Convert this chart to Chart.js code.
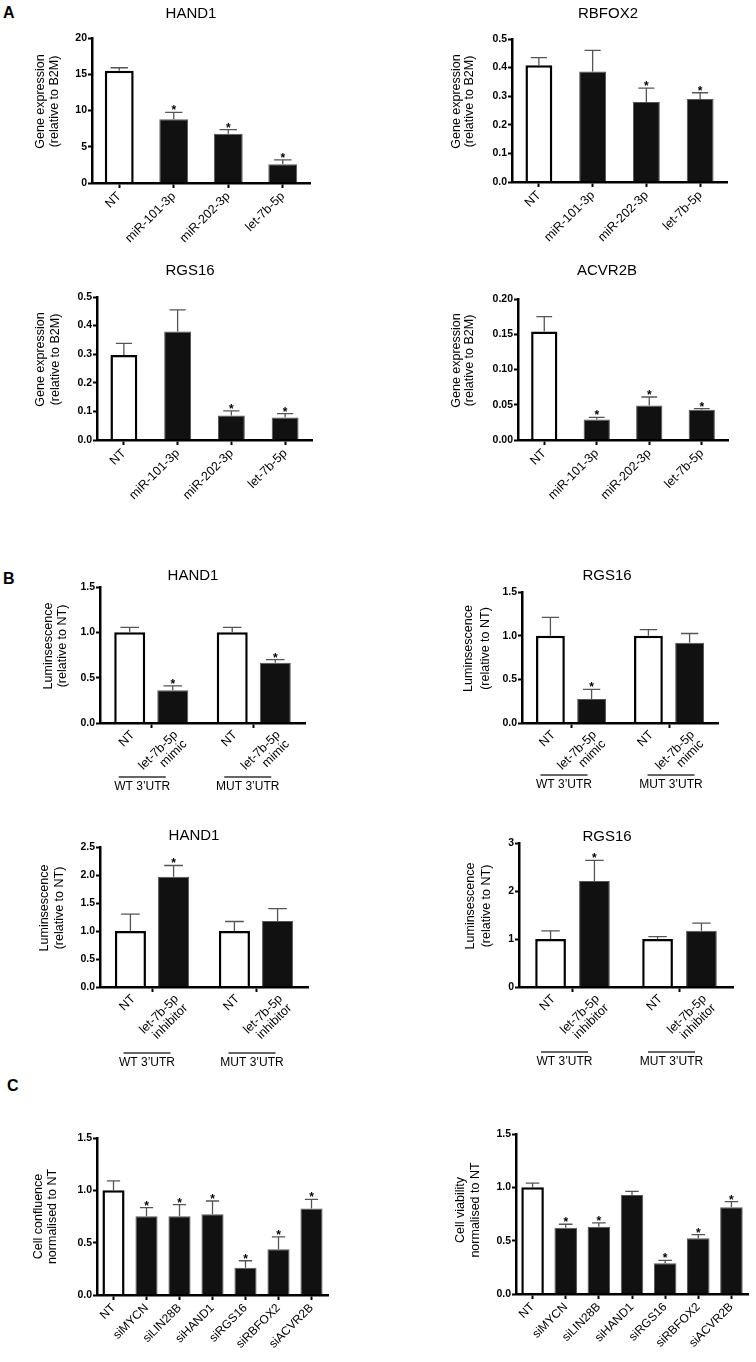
<!DOCTYPE html>
<html lang="en">
<head>
<meta charset="UTF-8">
<title>Gene expression, luciferase and siRNA panels</title>
<style>
  body { margin: 0; background: #fff; }
  #fig { position: relative; width: 756px; height: 1362px; overflow: hidden; font-family: "Liberation Sans", Arial, sans-serif; }
  .letter { position: absolute; font-weight: bold; font-size: 16px; line-height: 16px; }
  canvas { position: absolute; }
</style>
</head>
<body>
<div id="fig">
  <div class="letter" style="left:3px;top:5px">A</div>
  <div class="letter" style="left:3px;top:571px">B</div>
  <div class="letter" style="left:7px;top:1078px">C</div>
</div>

<script src="https://cdn.jsdelivr.net/npm/chart.js"></script>
<script>
// ---- data ----
const geneCats = ['NT', 'miR-101-3p', 'miR-202-3p', 'let-7b-5p'];

const hand1Expr    = [15.5, 8.8, 6.8, 2.6];
const hand1ExprErr = [0.4, 0.95, 0.55, 0.6];
const hand1ExprSig = [0, 1, 1, 1];

const rbfox2Expr    = [0.408, 0.386, 0.28, 0.29];
const rbfox2ExprErr = [0.027, 0.074, 0.048, 0.022];
const rbfox2ExprSig = [0, 0, 1, 1];

const rgs16Expr    = [0.297, 0.379, 0.086, 0.079];
const rgs16ExprErr = [0.041, 0.076, 0.016, 0.013];
const rgs16ExprSig = [0, 0, 1, 1];

const acvr2bExpr    = [0.154, 0.029, 0.049, 0.043];
const acvr2bExprErr = [0.021, 0.003, 0.012, 0.0015];
const acvr2bExprSig = [0, 1, 1, 1];

const utrGroups   = ['WT 3\u2019UTR', 'MUT 3\u2019UTR'];
const mimicLabels = ['NT', ['let-7b-5p', 'mimic']];
const inhibLabels = ['NT', ['let-7b-5p', 'inhibitor']];

const hand1MimicNT     = [1.0, 1.0];
const hand1MimicNTErr  = [0.055, 0.055];
const hand1Mimic       = [0.36, 0.665];
const hand1MimicErr    = [0.05, 0.035];
const hand1MimicSig    = [1, 1];

const rgs16MimicNT     = [1.0, 1.0];
const rgs16MimicNTErr  = [0.21, 0.07];
const rgs16Mimic       = [0.275, 0.92];
const rgs16MimicErr    = [0.11, 0.105];
const rgs16MimicSig    = [1, 0];

const hand1InhibNT     = [1.0, 1.0];
const hand1InhibNTErr  = [0.30, 0.17];
const hand1Inhib       = [1.97, 1.18];
const hand1InhibErr    = [0.20, 0.22];
const hand1InhibSig    = [1, 0];

const rgs16InhibNT     = [1.0, 1.0];
const rgs16InhibNTErr  = [0.17, 0.05];
const rgs16Inhib       = [2.21, 1.17];
const rgs16InhibErr    = [0.43, 0.16];
const rgs16InhibSig    = [1, 0];

const siCats        = ['NT', 'siMYCN', 'siLIN28B', 'siHAND1', 'siRGS16', 'siRBFOX2', 'siACVR2B'];
const confluence    = [1.0, 0.752, 0.752, 0.771, 0.26, 0.438, 0.826];
const confluenceErr = [0.09, 0.083, 0.112, 0.127, 0.067, 0.117, 0.088];
const confluenceSig = [0, 1, 1, 1, 1, 1, 1];
const viability     = [1.0, 0.622, 0.631, 0.929, 0.288, 0.522, 0.813];
const viabilityErr  = [0.04, 0.032, 0.035, 0.034, 0.028, 0.034, 0.053];
const viabilitySig  = [0, 1, 1, 0, 1, 1, 1];

// ---- drawing ----
const FONT = '"Liberation Sans", Arial, Helvetica, sans-serif';
Chart.defaults.font.family = FONT;
Chart.defaults.color = '#000';

const fig = document.getElementById('fig');
const L = 80, T = 50, R = 14, B = 120;   // canvas margins around the plot box

// error bars, asterisks, titles, grouped labels
const figExtras = {
  id: 'figExtras',
  afterDraw(chart, args, o) {
    const ctx = chart.ctx, ys = chart.scales.y, xs = chart.scales.x, ca = chart.chartArea;
    const ox = o.box.x0 - L, oy = o.box.yTop - T;
    ctx.save();

    chart.data.datasets.forEach((ds, di) => {
      chart.getDatasetMeta(di).data.forEach((bar, i) => {
        const yTop = ys.getPixelForValue(ds.data[i] + o.err[di][i]);
        const cap = bar.width * 0.3;
        ctx.strokeStyle = '#555';
        ctx.lineWidth = 1.3;
        ctx.beginPath();
        ctx.moveTo(bar.x, bar.y);
        ctx.lineTo(bar.x, yTop);
        ctx.moveTo(bar.x - cap, yTop);
        ctx.lineTo(bar.x + cap, yTop);
        ctx.stroke();
        if (o.sig[di][i]) {
          ctx.fillStyle = '#000';
          ctx.font = 'bold 12px ' + FONT;
          ctx.textAlign = 'center';
          ctx.textBaseline = 'alphabetic';
          ctx.fillText('*', bar.x, yTop + 2);
        }
      });
    });

    ctx.fillStyle = '#000';
    if (o.title) {
      ctx.font = '15px ' + FONT;
      ctx.textAlign = 'center';
      ctx.textBaseline = 'middle';
      ctx.fillText(o.title, o.titleX - ox, o.titleY - oy);
    }

    ctx.font = '12.5px ' + FONT;
    ctx.textAlign = 'center';
    ctx.textBaseline = 'middle';
    const cy = (ca.top + ca.bottom) / 2 + o.yTitleDy;
    o.yTitle.forEach((line, k) => {
      ctx.save();
      ctx.translate(ca.left + o.yTitleDx[k], cy);
      ctx.rotate(-Math.PI / 2);
      ctx.fillText(line, 0, 0);
      ctx.restore();
    });

    if (o.barLabels) {
      ctx.font = '12.5px ' + FONT;
      ctx.textAlign = 'right';
      chart.data.datasets.forEach((ds, di) => {
        const lab = o.barLabels[di];
        const lines = Array.isArray(lab) ? lab : [lab];
        chart.getDatasetMeta(di).data.forEach(bar => {
          ctx.save();
          ctx.translate(bar.x + 3, ca.bottom + 10);
          ctx.rotate(-Math.PI / 4);
          lines.forEach((ln, k) => ctx.fillText(ln, 0, k * 13));
          ctx.restore();
        });
      });
      ctx.font = '12px ' + FONT;
      ctx.textAlign = 'center';
      chart.data.labels.forEach((g, gi) => {
        const cx = xs.getPixelForTick(gi) + o.groupDx[gi];
        ctx.strokeStyle = '#333';
        ctx.lineWidth = 1.3;
        ctx.beginPath();
        ctx.moveTo(cx - 23.5, ca.bottom + o.lineDy);
        ctx.lineTo(cx + 23.5, ca.bottom + o.lineDy);
        ctx.stroke();
        ctx.fillText(g, cx, ca.bottom + o.lineDy + 10);
      });
    }
    ctx.restore();
  }
};

function makePanel(p) {
  const box = p.box;
  const w = box.x1 - box.x0 + L + R;
  const h = box.y0 - box.yTop + T + B;
  const cv = document.createElement('canvas');
  cv.width = w; cv.height = h;
  cv.style.left = (box.x0 - L) + 'px';
  cv.style.top = (box.yTop - T) + 'px';
  cv.style.width = w + 'px';
  cv.style.height = h + 'px';
  fig.appendChild(cv);

  const grouped = !!p.barLabels;
  return new Chart(cv.getContext('2d'), {
    type: 'bar',
    data: { labels: p.labels, datasets: p.datasets },
    options: {
      responsive: false,
      animation: false,
      devicePixelRatio: 1,
      layout: { padding: { left: 0, top: T, right: R, bottom: 0 } },
      datasets: { bar: { categoryPercentage: p.catPct, barPercentage: p.barPct, borderSkipped: 'start' } },
      plugins: {
        legend: { display: false },
        tooltip: { enabled: false },
        figExtras: Object.assign({ box: box }, p.extras)
      },
      scales: {
        x: {
          afterFit: s => { s.height = B; },
          grid: { display: true, drawOnChartArea: false, offset: false, tickLength: 5, tickWidth: 2, tickColor: '#000' },
          border: { display: true, color: '#000', width: 2.5, z: 1 },
          ticks: {
            display: !grouped, autoSkip: false, minRotation: 45, maxRotation: 45,
            font: { size: p.xFont || 12.5 }, padding: 1, color: '#000'
          }
        },
        y: {
          min: 0, max: p.yMax,
          afterFit: s => { s.width = L; },
          afterBuildTicks: s => { s.ticks = p.yTicks.map(v => ({ value: v })); },
          grid: { display: true, drawOnChartArea: false, tickLength: 4, tickWidth: 2, tickColor: '#000' },
          border: { display: true, color: '#000', width: 2.5, z: 1 },
          ticks: {
            font: { size: 10.5, weight: 'bold' }, padding: 1, color: '#000',
            callback: v => v.toFixed(p.yDec)
          }
        }
      }
    },
    plugins: [figExtras]
  });
}

function singleSet(values) {
  return [{
    data: values,
    backgroundColor: values.map((v, i) => i === 0 ? '#fff' : '#111'),
    borderColor: values.map((v, i) => i === 0 ? '#000' : '#555'),
    borderWidth: values.map((v, i) => i === 0 ? 2.5 : 1)
  }];
}

function pairSets(nt, treated) {
  return [
    { data: nt, backgroundColor: '#fff', borderColor: '#000', borderWidth: 2.5 },
    { data: treated, backgroundColor: '#111', borderColor: '#555', borderWidth: 1 }
  ];
}

const geneTitle = ['Gene expression', '(relative to B2M)'];
const lumTitle = ['Luminsescence', '(relative to NT)'];

// Panel A
makePanel({
  box: { x0: 92, x1: 310, yTop: 38, y0: 183 },
  labels: geneCats, datasets: singleSet(hand1Expr), catPct: 1, barPct: 0.53,
  yMax: 20, yTicks: [0, 5, 10, 15, 20], yDec: 0,
  extras: { err: [hand1ExprErr], sig: [hand1ExprSig], title: 'HAND1', titleX: 191, titleY: 14,
            yTitle: geneTitle, yTitleDx: [-51, -37], yTitleDy: -9 }
});
makePanel({
  box: { x0: 512, x1: 727, yTop: 39, y0: 182 },
  labels: geneCats, datasets: singleSet(rbfox2Expr), catPct: 1, barPct: 0.5,
  yMax: 0.5, yTicks: [0, 0.1, 0.2, 0.3, 0.4, 0.5], yDec: 1,
  extras: { err: [rbfox2ExprErr], sig: [rbfox2ExprSig], title: 'RBFOX2', titleX: 608, titleY: 14,
            yTitle: geneTitle, yTitleDx: [-55, -42], yTitleDy: -9 }
});
makePanel({
  box: { x0: 97, x1: 312, yTop: 297, y0: 440 },
  labels: geneCats, datasets: singleSet(rgs16Expr), catPct: 1, barPct: 0.5,
  yMax: 0.5, yTicks: [0, 0.1, 0.2, 0.3, 0.4, 0.5], yDec: 1,
  extras: { err: [rgs16ExprErr], sig: [rgs16ExprSig], title: 'RGS16', titleX: 190, titleY: 271,
            yTitle: geneTitle, yTitleDx: [-56, -41], yTitleDy: -9 }
});
makePanel({
  box: { x0: 518, x1: 728, yTop: 299, y0: 440 },
  labels: geneCats, datasets: singleSet(acvr2bExpr), catPct: 1, barPct: 0.5,
  yMax: 0.2, yTicks: [0, 0.05, 0.1, 0.15, 0.2], yDec: 2,
  extras: { err: [acvr2bExprErr], sig: [acvr2bExprSig], title: 'ACVR2B', titleX: 607, titleY: 271,
            yTitle: geneTitle, yTitleDx: [-61, -48], yTitleDy: -9 }
});

// Panel B
makePanel({
  box: { x0: 100, x1: 305, yTop: 587, y0: 723 },
  labels: utrGroups, datasets: pairSets(hand1MimicNT, hand1Mimic), catPct: 0.84, barPct: 0.72,
  barLabels: mimicLabels,
  yMax: 1.5, yTicks: [0, 0.5, 1, 1.5], yDec: 1,
  extras: { err: [hand1MimicNTErr, hand1MimicErr], sig: [[0, 0], hand1MimicSig], title: 'HAND1', titleX: 193, titleY: 576,
            yTitle: lumTitle, yTitleDx: [-51, -37], yTitleDy: -9,
            barLabels: mimicLabels, groupDx: [-9, -6], lineDy: 54 }
});
makePanel({
  box: { x0: 522, x1: 718, yTop: 592, y0: 723 },
  labels: utrGroups, datasets: pairSets(rgs16MimicNT, rgs16Mimic), catPct: 0.84, barPct: 0.7,
  barLabels: mimicLabels,
  yMax: 1.5, yTicks: [0, 0.5, 1, 1.5], yDec: 1,
  extras: { err: [rgs16MimicNTErr, rgs16MimicErr], sig: [[0, 0], rgs16MimicSig], title: 'RGS16', titleX: 607, titleY: 576,
            yTitle: lumTitle, yTitleDx: [-53, -36], yTitleDy: -9,
            barLabels: mimicLabels, groupDx: [-7, 2], lineDy: 52 }
});
makePanel({
  box: { x0: 100, x1: 308, yTop: 847, y0: 987 },
  labels: utrGroups, datasets: pairSets(hand1InhibNT, hand1Inhib), catPct: 0.83, barPct: 0.72,
  barLabels: inhibLabels,
  yMax: 2.5, yTicks: [0, 0.5, 1, 1.5, 2, 2.5], yDec: 1,
  extras: { err: [hand1InhibNTErr, hand1InhibErr], sig: [[0, 0], hand1InhibSig], title: 'HAND1', titleX: 194, titleY: 836,
            yTitle: lumTitle, yTitleDx: [-55, -40], yTitleDy: -9,
            barLabels: inhibLabels, groupDx: [-5, -4], lineDy: 66 }
});
makePanel({
  box: { x0: 519, x1: 733, yTop: 843, y0: 987 },
  labels: utrGroups, datasets: pairSets(rgs16InhibNT, rgs16Inhib), catPct: 0.82, barPct: 0.7,
  barLabels: inhibLabels,
  yMax: 3, yTicks: [0, 1, 2, 3], yDec: 0,
  extras: { err: [rgs16InhibNTErr, rgs16InhibErr], sig: [[0, 0], rgs16InhibSig], title: 'RGS16', titleX: 607, titleY: 837,
            yTitle: lumTitle, yTitleDx: [-48, -32], yTitleDy: -9,
            barLabels: inhibLabels, groupDx: [-8, -8], lineDy: 65 }
});

// Panel C
makePanel({
  box: { x0: 97, x1: 328, yTop: 1138, y0: 1295 },
  labels: siCats, datasets: singleSet(confluence), catPct: 1, barPct: 0.67, xFont: 12,
  yMax: 1.5, yTicks: [0, 0.5, 1, 1.5], yDec: 1,
  extras: { err: [confluenceErr], sig: [confluenceSig],
            yTitle: ['Cell confluence', 'normalised to NT'], yTitleDx: [-58, -44], yTitleDy: 0 }
});
makePanel({
  box: { x0: 516, x1: 748, yTop: 1134, y0: 1294 },
  labels: siCats, datasets: singleSet(viability), catPct: 1, barPct: 0.68, xFont: 12,
  yMax: 1.5, yTicks: [0, 0.5, 1, 1.5], yDec: 1,
  extras: { err: [viabilityErr], sig: [viabilitySig],
            yTitle: ['Cell viability', 'normalised to NT'], yTitleDx: [-55, -40], yTitleDy: -4 }
});
</script>
</body>
</html>
